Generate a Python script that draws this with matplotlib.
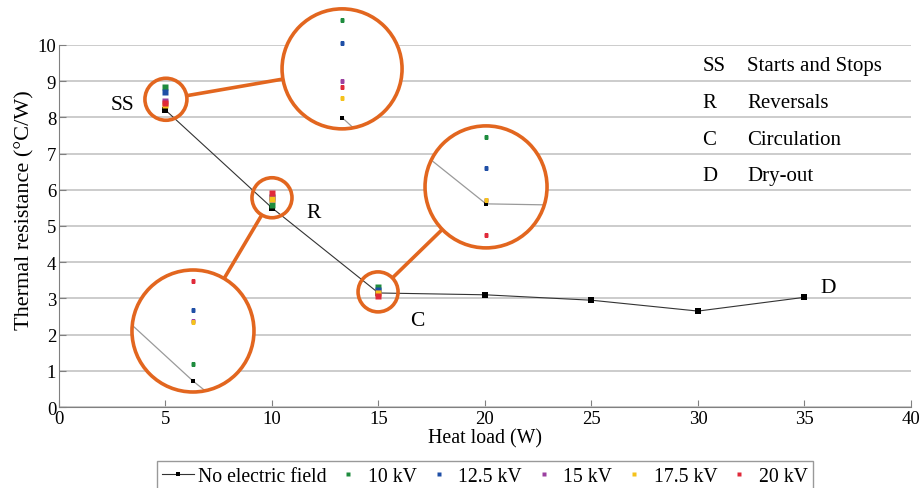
import matplotlib.pyplot as plt
from matplotlib.patches import Circle
from matplotlib.transforms import IdentityTransform
import numpy as np

plt.rcParams['font.family'] = ['Liberation Serif', 'DejaVu Serif']

# no electric field curve
heat_load = [5, 10, 15, 20, 25, 30, 35]
no_field = [8.2, 5.5, 3.15, 3.1, 2.95, 2.65, 3.03]

# with electric field (only at 5, 10, 15 W)
field_load = [5, 10, 15]
kv_10 = [8.84, 5.57, 3.32]
kv_12_5 = [8.69, 5.79, 3.24]
kv_15 = [8.44, 5.745, 3.16]
kv_17_5 = [8.33, 5.74, 3.16]
kv_20 = [8.40, 5.91, 3.07]

field_series = [kv_10, kv_12_5, kv_15, kv_17_5, kv_20]
field_labels = ['10 kV', '12.5 kV', '15 kV', '17.5 kV', '20 kV']
field_colors = ['#1e8c3e', '#1f4fa6', '#9b40a0', '#f5c21b', '#e02a3a']

regimes = ['SS', 'R', 'C', 'D']
regime_names = ['Starts and Stops', 'Reversals', 'Circulation', 'Dry-out']
regime_pos = [(2.96, 8.36), (11.97, 5.36), (16.8, 2.4), (36.1, 3.3)]

orange = '#e2661f'

fig = plt.figure(figsize=(9.22, 4.89), dpi=100)
ax = fig.add_axes([0.064, 0.1656, 0.924, 0.7404])

def draw_data(a, lw, ms_black, ms_col, line_col):
    a.plot(heat_load, no_field, '-s', color=line_col, lw=lw, mfc='black', mec='black',
           ms=ms_black, mew=0, label='No electric field')
    for vals, lab, col in zip(field_series, field_labels, field_colors):
        a.plot(field_load, vals, 's', color=col, ms=ms_col, mec='none', label=lab)

draw_data(ax, 0.8, 4.2, 4.0, '#333333')

ax.set_xlim(0, 40)
ax.set_ylim(0, 10)
ax.set_xticks(range(0, 41, 5))
ax.set_yticks(range(0, 11))
for s in ['top', 'right']:
    ax.spines[s].set_visible(False)
for s in ['left', 'bottom']:
    ax.spines[s].set_color('#808080')
ax.tick_params(direction='in', length=5, color='#808080', labelsize=13.5, pad=2)
ax.yaxis.grid(True, color='#c4c4c4', lw=1.2)
ax.set_axisbelow(True)
ax.set_xlabel('Heat load (W)', fontsize=14.3, labelpad=1)
ax.set_ylabel('Thermal resistance (°C/W)', fontsize=16)
ax.yaxis.set_label_coords(-0.029, 0.547)

for r, (x, y) in zip(regimes, regime_pos):
    ax.text(x, y, r, fontsize=15.5, ha='center', va='center')

for i, (r, name) in enumerate(zip(regimes, regime_names)):
    yy = 9.43 - i * 1.015
    ax.text(30.2, yy, r, fontsize=15, va='center')
    ax.text(32.3, yy, name, fontsize=15, va='center')

# magnifiers: (small circle centre in data, small r px, big circle centre in data, big r px, magnification)
zooms = [
    ((5.02, 8.50), 21, (13.29, 9.34), 60, 4.2),
    ((10.0, 5.78), 20, (6.29, 2.10), 61, 6.74),
    ((14.98, 3.18), 20, (20.05, 6.08), 61, 10.9),
]
zoom_centres = [(5.0, 8.52), (10.0, 5.705), (15.0, 3.193)]

fig.canvas.draw()
W, H = fig.bbox.width, fig.bbox.height
sx = ax.transData.transform((1, 0))[0] - ax.transData.transform((0, 0))[0]
sy = ax.transData.transform((0, 1))[1] - ax.transData.transform((0, 0))[1]

for (small, rs, big, rb, m), (zx, zy) in zip(zooms, zoom_centres):
    ps = ax.transData.transform(small)
    pb = ax.transData.transform(big)
    ax.add_patch(Circle(ps, rs, transform=IdentityTransform(), fill=False,
                        ec=orange, lw=2.6, clip_on=False, zorder=5))
    d = (pb - ps) / np.hypot(*(pb - ps))
    p0 = ps + d * rs
    p1 = pb - d * rb
    ax.plot([p0[0], p1[0]], [p0[1], p1[1]], color=orange, lw=2.6,
            transform=IdentityTransform(), clip_on=False, zorder=5,
            solid_capstyle='butt')
    ins = fig.add_axes([(pb[0] - rb) / W, (pb[1] - rb) / H, 2 * rb / W, 2 * rb / H])
    ins.axis('off')
    bg = Circle((0.5, 0.5), 0.5, transform=ins.transAxes, fc='white', ec='none', zorder=0)
    ins.add_patch(bg)
    draw_data(ins, 0.9, 2.8, 2.5, '#9a9a9a')
    for ln in ins.lines:
        ln.set_clip_path(bg)
    hx = rb / (sx * m)
    hy = rb / (sy * m)
    ins.set_xlim(zx - hx, zx + hx)
    ins.set_ylim(zy - hy, zy + hy)
    ins.add_patch(Circle((0.5, 0.5), 0.5, transform=ins.transAxes, fill=False,
                         ec=orange, lw=2.6, clip_on=False, zorder=10))

handles, labels = ax.get_legend_handles_labels()
fig.legend(handles, labels, loc='upper center', bbox_to_anchor=(0.526, 1 - 462 / 489),
           ncol=6, fontsize=14.2, frameon=True, fancybox=False, edgecolor='#808080',
           numpoints=1, handlelength=1.6, handletextpad=0.2, columnspacing=0.3,
           borderpad=0.3, borderaxespad=0, markerscale=0.8)

fig.savefig('out.png', dpi=100)
